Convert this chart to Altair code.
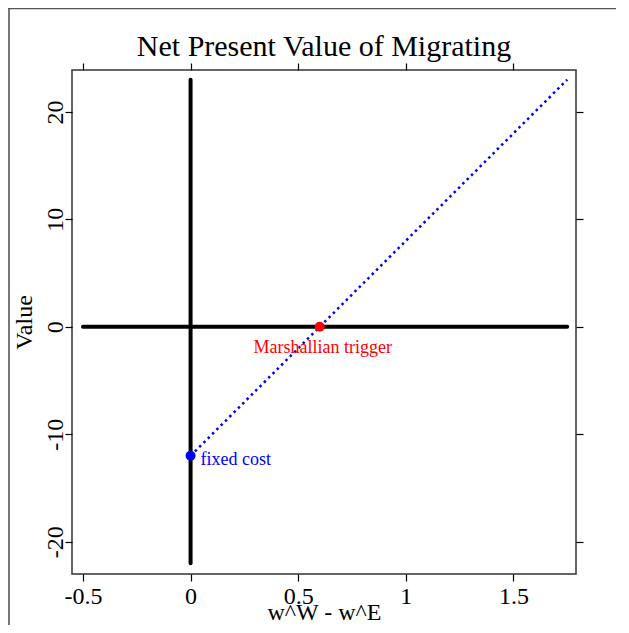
import altair as alt
import pandas as pd

FONT = "Liberation Serif"

# reference segments (axes of the diagram)
seg_x = [-0.5, 0.0]
seg_x2 = [1.75, 0.0]
seg_y = [0.0, -22.0]
seg_y2 = [0.0, 23.0]

# NPV line (dotted blue)
npv_x = [0.0, 1.75]
npv_y = [-12.0, 23.0]

# marked points
pt_x = [0.6, 0.0]
pt_y = [0.0, -12.0]
pt_label = ["Marshallian trigger", "fixed cost"]
pt_color = ["red", "blue"]

x_ticks = [-0.5, 0, 0.5, 1, 1.5]
y_ticks = [-20, -10, 0, 10, 20]
x_domain = [-0.551, 1.791]
y_domain = [-23.0, 23.9]

seg_df = pd.DataFrame({"x": seg_x, "x2": seg_x2, "y": seg_y, "y2": seg_y2})
npv_df = pd.DataFrame({"x": [npv_x[0]], "x2": [npv_x[1]], "y": [npv_y[0]], "y2": [npv_y[1]]})
pt_df = pd.DataFrame({"x": pt_x, "y": pt_y, "label": pt_label, "color": pt_color})
one_df = pd.DataFrame({"a": [0]})

xs = alt.Scale(domain=x_domain, nice=False, zero=False)
ys = alt.Scale(domain=y_domain, nice=False, zero=False)

bottom_axis = alt.Axis(
    orient="bottom", values=x_ticks, labelExpr="toString(datum.value)",
    labelBaseline="alphabetic", labelPadding=22,
    title="w^W - w^E", titleY=45, titleBaseline="alphabetic",
)
left_axis = alt.Axis(
    orient="left", values=y_ticks, labelExpr="toString(datum.value)",
    labelAngle=270, labelAlign="center", labelBaseline="alphabetic", labelPadding=3,
    title="Value", titleAngle=270, titleX=-40.5, titleY=252,
    titleAlign="center", titleBaseline="alphabetic",
)
top_axis = alt.Axis(orient="top", values=x_ticks, labels=False, title=None)
right_axis = alt.Axis(orient="right", values=y_ticks, labels=False, title=None)

segs = alt.Chart(seg_df).mark_rule(color="black", strokeWidth=4, strokeCap="round").encode(
    x=alt.X("x:Q", scale=xs, axis=bottom_axis),
    x2="x2:Q",
    y=alt.Y("y:Q", scale=ys, axis=left_axis),
    y2="y2:Q",
)

npv = alt.Chart(npv_df).mark_rule(
    color="#0000ff", strokeWidth=2.5, strokeDash=[2.5, 3.6], strokeCap="butt"
).encode(
    x=alt.X("x:Q", scale=xs, axis=top_axis),
    x2="x2:Q",
    y=alt.Y("y:Q", scale=ys, axis=right_axis),
    y2="y2:Q",
)

pts = alt.Chart(pt_df).mark_circle(size=100, opacity=1).encode(
    x=alt.X("x:Q", scale=xs, axis=None),
    y=alt.Y("y:Q", scale=ys, axis=None),
    color=alt.Color("color:N", scale=None),
)

txt_trigger = alt.Chart(pt_df).transform_filter(
    alt.datum.label == "Marshallian trigger"
).mark_text(
    color="#ff0000", font=FONT, fontSize=18, align="center", baseline="alphabetic", dx=3, dy=26
).encode(
    x=alt.X("x:Q", scale=xs, axis=None),
    y=alt.Y("y:Q", scale=ys, axis=None),
    text="label:N",
)

txt_fixed = alt.Chart(pt_df).transform_filter(
    alt.datum.label == "fixed cost"
).mark_text(
    color="#0000ff", font=FONT, fontSize=18, align="left", baseline="alphabetic", dx=10, dy=9
).encode(
    x=alt.X("x:Q", scale=xs, axis=None),
    y=alt.Y("y:Q", scale=ys, axis=None),
    text="label:N",
)

frame_left = alt.Chart(one_df).mark_rule(color="#555555", strokeWidth=1.6).encode(
    x=alt.value(-63), y=alt.value(-62), y2=alt.value(600)
)
frame_top = alt.Chart(one_df).mark_rule(color="#555555", strokeWidth=1.6).encode(
    x=alt.value(-64), x2=alt.value(600), y=alt.value(-61.5)
)

chart = alt.layer(
    frame_left, frame_top, segs, npv, pts, txt_trigger, txt_fixed
).resolve_axis(
    x="independent", y="independent"
).properties(
    width=504,
    height=504,
    autosize=alt.AutoSizeParams(type="none"),
    padding={"left": 64, "top": 62, "right": 40, "bottom": 51},
    background="white",
    title=alt.TitleParams(
        "Net Present Value of Migrating", font=FONT, fontSize=30, fontWeight="normal",
        color="black", anchor="middle", baseline="alphabetic", offset=0, dy=79,
    ),
).configure_view(
    stroke="#333333", strokeWidth=1.5
).configure_axis(
    labelFont=FONT, titleFont=FONT, labelFontSize=24, titleFontSize=24,
    labelColor="black", titleColor="black", titleFontWeight="normal",
    tickColor="black", tickWidth=1.2, tickSize=7, domain=False, grid=False,
    labelFlush=False, labelOverlap=False,
)

chart.save("out.html", embed_options={"renderer": "svg", "actions": False})
